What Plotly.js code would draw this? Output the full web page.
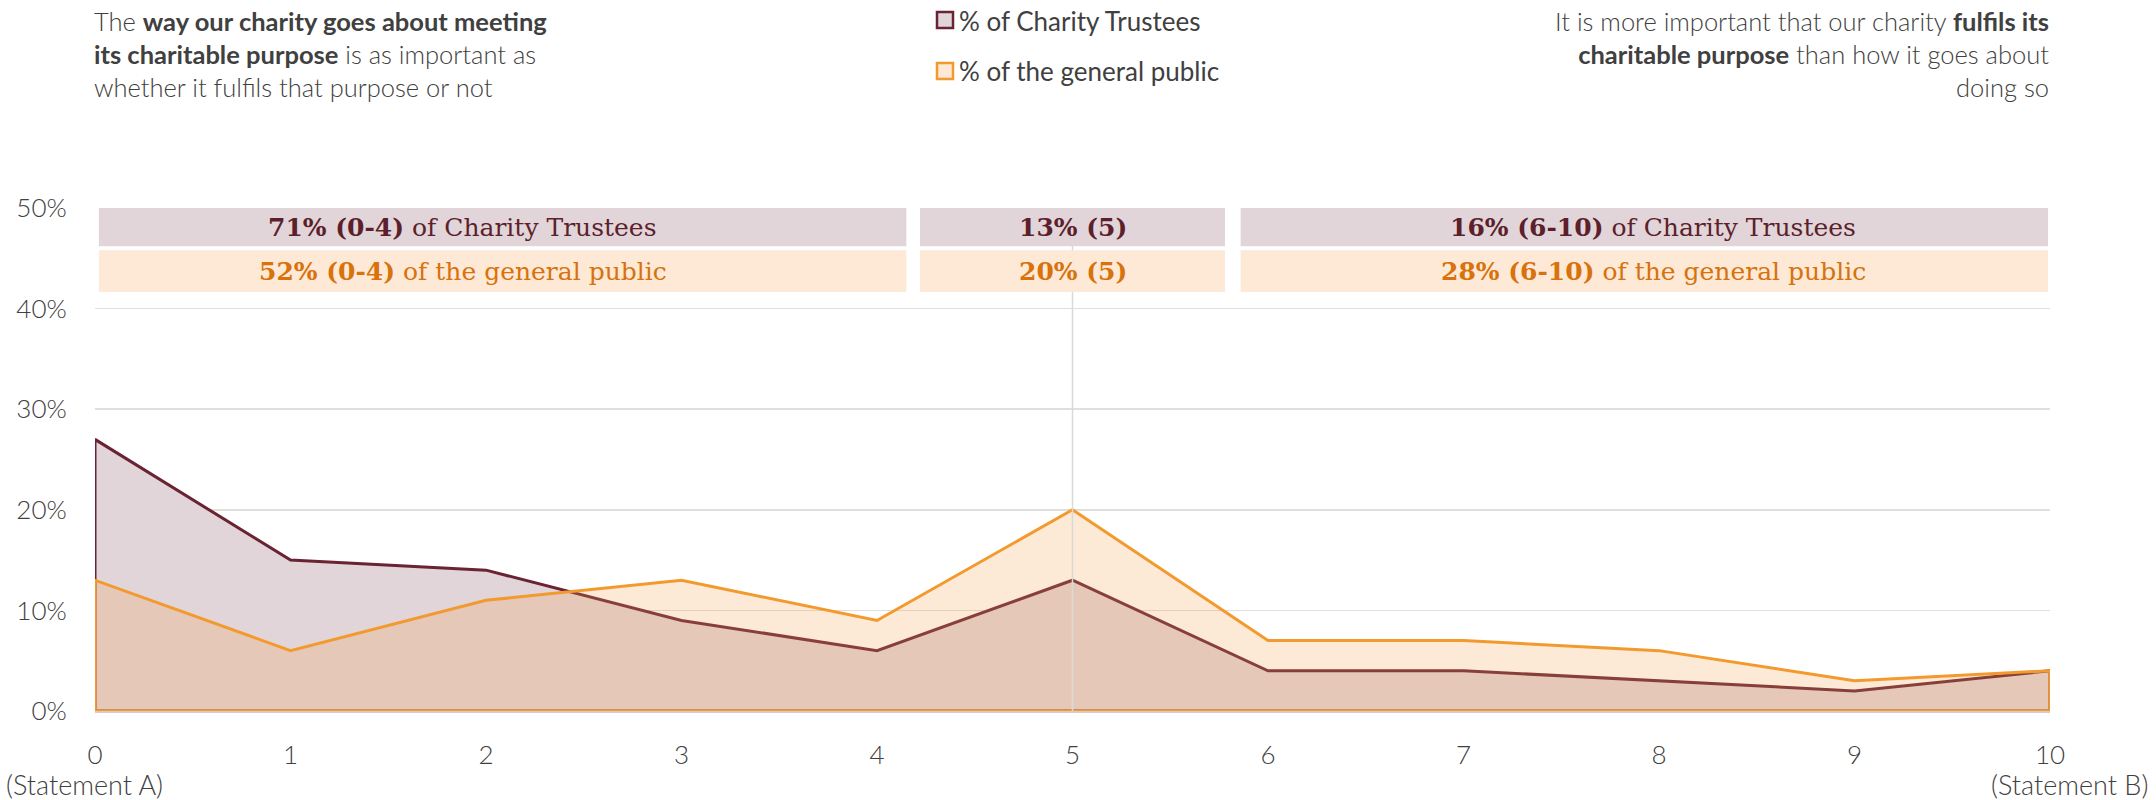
<!DOCTYPE html>
<html>
<head>
<meta charset="utf-8">
<script src="https://cdn.plot.ly/plotly-3.0.1.min.js"></script>
<style>
  html, body { margin: 0; padding: 0; background: #ffffff; }
  #chart { width: 2156px; height: 800px; }
</style>
</head>
<body>
<div id="chart"></div>
<script>
// ---------- DATA ----------
const categories = [0, 1, 2, 3, 4, 5, 6, 7, 8, 9, 10];
const xTickLabels = ['0', '1', '2', '3', '4', '5', '6', '7', '8', '9', '10'];
const trustees = [27, 15, 14, 9, 6, 13, 4, 4, 3, 2, 4];       // % of Charity Trustees
const generalPublic = [13, 6, 11, 13, 9, 20, 7, 7, 6, 3, 4];  // % of the general public
const yTickValues = [0, 10, 20, 30, 40, 50];
const yTickLabels = ['0%', '10%', '20%', '30%', '40%', '50%'];
const seriesNames = ['% of Charity Trustees', '% of the general public'];
const groupRanges = ['(0-4)', '(5)', '(6-10)'];
const trusteeShares = ['71%', '13%', '16%'];
const publicShares = ['52%', '20%', '28%'];
const trusteeSuffix = [' of Charity Trustees', '', ' of Charity Trustees'];
const publicSuffix = [' of the general public', '', ' of the general public'];
const endLabels = ['(Statement A)', '(Statement B)'];
const leftStatement = 'The <b>way our charity goes about meeting</b><br><b>its charitable purpose</b> is as important as<br>whether it fulfils that purpose or not';
const rightStatement = 'It is more important that our charity <b>fulfils its</b><br><b>charitable purpose</b> than how it goes about<br>doing so';

// ---------- STYLE ----------
const W = 2156, H = 800;
const M = { l: 95, r: 106, t: 208, b: 89 };
const PW = W - M.l - M.r, PH = H - M.t - M.b;
const px = v => (v - M.l) / PW;           // pixel x -> paper x
const py = v => (M.t + PH - v) / PH;      // pixel y -> paper y

const maroon = '#6a2333';
const orange = '#f39a2e';
const mauveFill = '#e1d5d9';
const publicFill = 'rgba(242,159,77,0.23)';
const lightOrange = '#fde9d6';
const trusteeText = '#5c1f2b';
const publicText = '#d8720c';
const greyText = '#404040';
const sans = 'Lato, "Open Sans", sans-serif';
const serif = '"DejaVu Serif", Georgia, serif';

// closed outline of an area (baseline -> values -> baseline)
function outline(xs, ys) {
  return {
    x: [xs[0]].concat(xs, [xs[xs.length - 1], xs[0]]),
    y: [0].concat(ys, [0, 0])
  };
}

const tr = outline(categories, trustees);
const gp = outline(categories, generalPublic);

const traces = [
  {
    type: 'scatter', mode: 'lines', name: seriesNames[0],
    x: tr.x, y: tr.y, fill: 'toself', fillcolor: mauveFill,
    line: { color: maroon, width: 3 }, hoverinfo: 'skip', cliponaxis: false
  },
  {
    type: 'scatter', mode: 'lines', name: seriesNames[1],
    x: gp.x, y: gp.y, fill: 'toself', fillcolor: publicFill,
    line: { color: orange, width: 3 }, hoverinfo: 'skip', cliponaxis: false
  }
];

// box geometry (in data units of x, % of y)
const boxX = [[0.02, 4.15], [4.22, 5.78], [5.86, 9.99]];
const textX = [1.88, 5.0, 7.97];
const row1 = [46.2, 50.0];
const row2 = [41.65, 45.8];

const shapes = [
  { type: 'line', xref: 'x', yref: 'y', x0: categories[5], x1: categories[5], y0: 0, y1: 50,
    line: { color: '#d9d9d9', width: 1.5 }, layer: 'above' }
];
const annotations = [];

for (let i = 0; i < 3; i++) {
  shapes.push({ type: 'rect', xref: 'x', yref: 'y', x0: boxX[i][0], x1: boxX[i][1], y0: row1[0], y1: row1[1],
    fillcolor: mauveFill, line: { width: 0 }, layer: 'above' });
  shapes.push({ type: 'rect', xref: 'x', yref: 'y', x0: boxX[i][0], x1: boxX[i][1], y0: row2[0], y1: row2[1],
    fillcolor: lightOrange, line: { width: 0 }, layer: 'above' });
  annotations.push({ xref: 'x', yref: 'y', x: textX[i], y: (row1[0] + row1[1]) / 2,
    text: '<b>' + trusteeShares[i] + ' ' + groupRanges[i] + '</b>' + trusteeSuffix[i],
    showarrow: false, xanchor: 'center', yanchor: 'middle',
    font: { family: serif, size: 25, color: trusteeText } });
  annotations.push({ xref: 'x', yref: 'y', x: textX[i], y: (row2[0] + row2[1]) / 2,
    text: '<b>' + publicShares[i] + ' ' + groupRanges[i] + '</b>' + publicSuffix[i],
    showarrow: false, xanchor: 'center', yanchor: 'middle',
    font: { family: serif, size: 25, color: publicText } });
}

// legend (manual)
const legendItems = [
  { top: 12, border: maroon, fill: mauveFill, label: seriesNames[0] },
  { top: 63, border: orange, fill: lightOrange, label: seriesNames[1] }
];
legendItems.forEach(it => {
  shapes.push({ type: 'rect', xref: 'paper', yref: 'paper',
    x0: px(937), x1: px(953), y0: py(it.top + 16), y1: py(it.top),
    fillcolor: it.fill, line: { color: it.border, width: 2.5 } });
  annotations.push({ xref: 'paper', yref: 'paper', x: px(957), y: py(it.top + 8.5),
    xanchor: 'left', yanchor: 'middle', showarrow: false, text: it.label,
    font: { family: sans, size: 26, color: greyText } });
});

// statements
annotations.push({ xref: 'paper', yref: 'paper', x: px(92), y: py(4), xanchor: 'left', yanchor: 'top',
  align: 'left', showarrow: false, text: leftStatement,
  font: { family: sans, size: 25.5, color: greyText, weight: 300 } });
annotations.push({ xref: 'paper', yref: 'paper', x: px(2051), y: py(4), xanchor: 'right', yanchor: 'top',
  align: 'right', showarrow: false, text: rightStatement,
  font: { family: sans, size: 25.5, color: greyText, weight: 300 } });

// end labels
annotations.push({ xref: 'paper', yref: 'paper', x: px(4), y: py(784), xanchor: 'left', yanchor: 'middle',
  showarrow: false, text: endLabels[0], font: { family: sans, size: 27, color: greyText, weight: 300 } });
annotations.push({ xref: 'paper', yref: 'paper', x: px(2150), y: py(784), xanchor: 'right', yanchor: 'middle',
  showarrow: false, text: endLabels[1], font: { family: sans, size: 27, color: greyText, weight: 300 } });

const layout = {
  width: W, height: H,
  margin: M,
  paper_bgcolor: '#ffffff', plot_bgcolor: '#ffffff',
  showlegend: false,
  xaxis: {
    range: [categories[0], categories[categories.length - 1]],
    tickvals: categories, ticktext: xTickLabels,
    showgrid: false, zeroline: false,
    showline: true, linecolor: '#d8cdc6', linewidth: 1.5,
    ticks: 'outside', ticklen: 20, tickcolor: 'rgba(0,0,0,0)',
    tickfont: { family: sans, size: 26, color: greyText, weight: 300 },
    fixedrange: true
  },
  yaxis: {
    range: [0, 50],
    tickvals: yTickValues, ticktext: yTickLabels,
    showgrid: true, gridcolor: '#e2deda', gridwidth: 1.5,
    zeroline: false, showline: false,
    ticks: 'outside', ticklen: 22, tickcolor: 'rgba(0,0,0,0)',
    tickfont: { family: sans, size: 26, color: greyText, weight: 300 },
    fixedrange: true
  },
  shapes: shapes,
  annotations: annotations
};

Plotly.newPlot('chart', traces, layout, { displayModeBar: false, staticPlot: true });
</script>
</body>
</html>
